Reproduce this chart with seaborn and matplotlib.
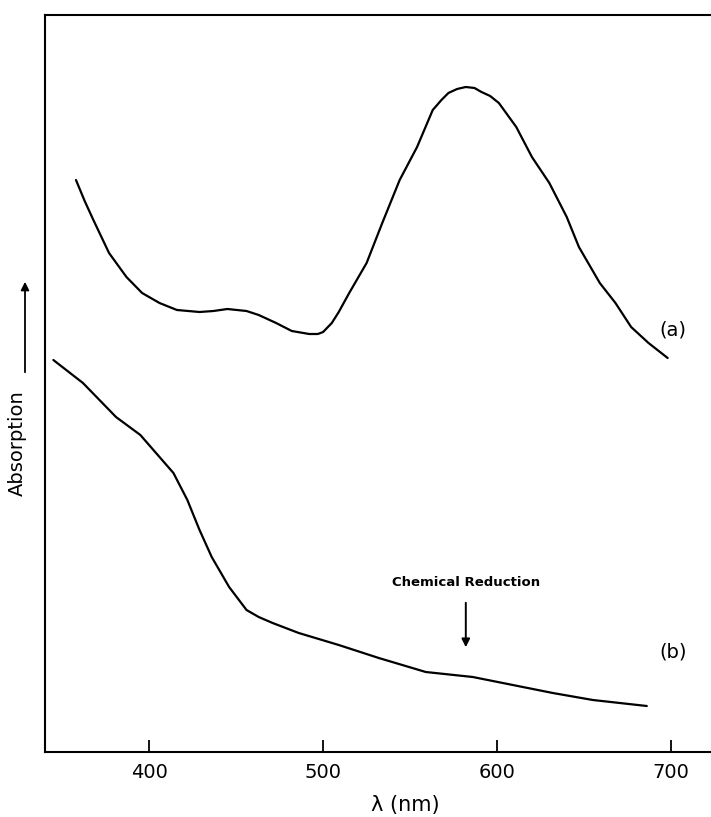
import numpy as np
import pandas as pd
import matplotlib
matplotlib.use("Agg")
import matplotlib.pyplot as plt
import seaborn as sns

# ---- data (y in arbitrary absorption units) ----
wl_a = [358, 363, 368, 377, 387, 396, 406, 416, 429, 437, 445, 456, 463, 473,
        482, 492, 497, 500, 505, 509, 515, 525, 534, 544, 554, 563, 568, 572,
        577, 582, 587, 591, 596, 601, 611, 620, 630, 640, 647, 659, 668, 677,
        687, 698]
abs_a = [572, 551, 532, 499, 475, 459, 449, 442, 440, 441, 443, 441, 437, 429,
         421, 418, 418, 420, 429, 440, 459, 489, 529, 572, 605, 642, 652, 659,
         663, 665, 664, 660, 656, 649, 625, 595, 569, 535, 505, 469, 449, 425,
         409, 394]

wl_b = [345, 362, 381, 395, 406, 414, 422, 429, 436, 446, 456, 463, 471, 486,
        509, 532, 559, 586, 609, 632, 655, 686]
abs_b = [392, 369, 335, 317, 295, 279, 252, 222, 195, 165, 142, 135, 129, 119,
         107, 94, 80, 75, 67, 59, 52, 46]

x_ticks = [400, 500, 600, 700]
x_label = "λ (nm)"
y_label = "Absorption"
annot_text = "Chemical Reduction"
annot_x = 582
series_labels = ["(a)", "(b)"]

df_a = pd.DataFrame({"wl": wl_a, "A": abs_a})
df_b = pd.DataFrame({"wl": wl_b, "A": abs_b})

sns.set_style("white")
plt.rcParams["font.family"] = ["DejaVu Sans"]
plt.rcParams["text.color"] = "black"
plt.rcParams["axes.labelcolor"] = "black"

W, H = 711, 817
fig = plt.figure(figsize=(W / 100, H / 100), dpi=100)
ax = fig.add_axes([45 / W, 1 - 752 / H, 1 - 45 / W, (752 - 15) / H])

sns.lineplot(data=df_a, x="wl", y="A", ax=ax, color="black", lw=1.6, sort=False)
sns.lineplot(data=df_b, x="wl", y="A", ax=ax, color="black", lw=1.6, sort=False)
for ln in ax.lines:
    ln.set_solid_joinstyle("round")
    ln.set_solid_capstyle("round")

ax.set_xlim(340.2, 722.9)
ax.set_ylim(0, 737)
ax.set_xticks(x_ticks)
ax.set_xticklabels([str(t) for t in x_ticks], fontsize=14, color="black")
ax.set_yticks([])
ax.tick_params(axis="x", direction="in", length=9, width=1.3, pad=8,
               bottom=True, top=False, colors="black")
for s in ["left", "bottom", "top"]:
    ax.spines[s].set_visible(True)
    ax.spines[s].set_color("black")
    ax.spines[s].set_linewidth(1.5)
ax.spines["right"].set_visible(False)

ax.set_xlabel(x_label, fontsize=15, color="black")
ax.xaxis.set_label_coords((405 - 45) / (W - 45), -0.058)
ax.set_ylabel("")

# y-axis label with arrow
fig.text(17 / W, 1 - 443 / H, y_label, rotation=90, ha="center", va="center",
         fontsize=14, color="black")
fig.add_artist(matplotlib.patches.FancyArrowPatch(
    (25 / W, 1 - 375 / H), (25 / W, 1 - 279 / H), transform=fig.transFigure,
    arrowstyle="-|>", mutation_scale=12, color="black", lw=1.3))

# series labels
ax.text(701, 422, series_labels[0], fontsize=14, ha="center", va="center",
        color="black")
ax.text(701, 100, series_labels[1], fontsize=14, ha="center", va="center",
        color="black")

# annotation
ax.text(annot_x, 170, annot_text, fontsize=9.5, fontweight="bold",
        ha="center", va="center", color="black")
ax.annotate("", xy=(annot_x, 102), xytext=(annot_x, 152),
            arrowprops=dict(arrowstyle="-|>", color="black", lw=1.4,
                            mutation_scale=12))

fig.savefig("out.png", dpi=100, facecolor="white")
